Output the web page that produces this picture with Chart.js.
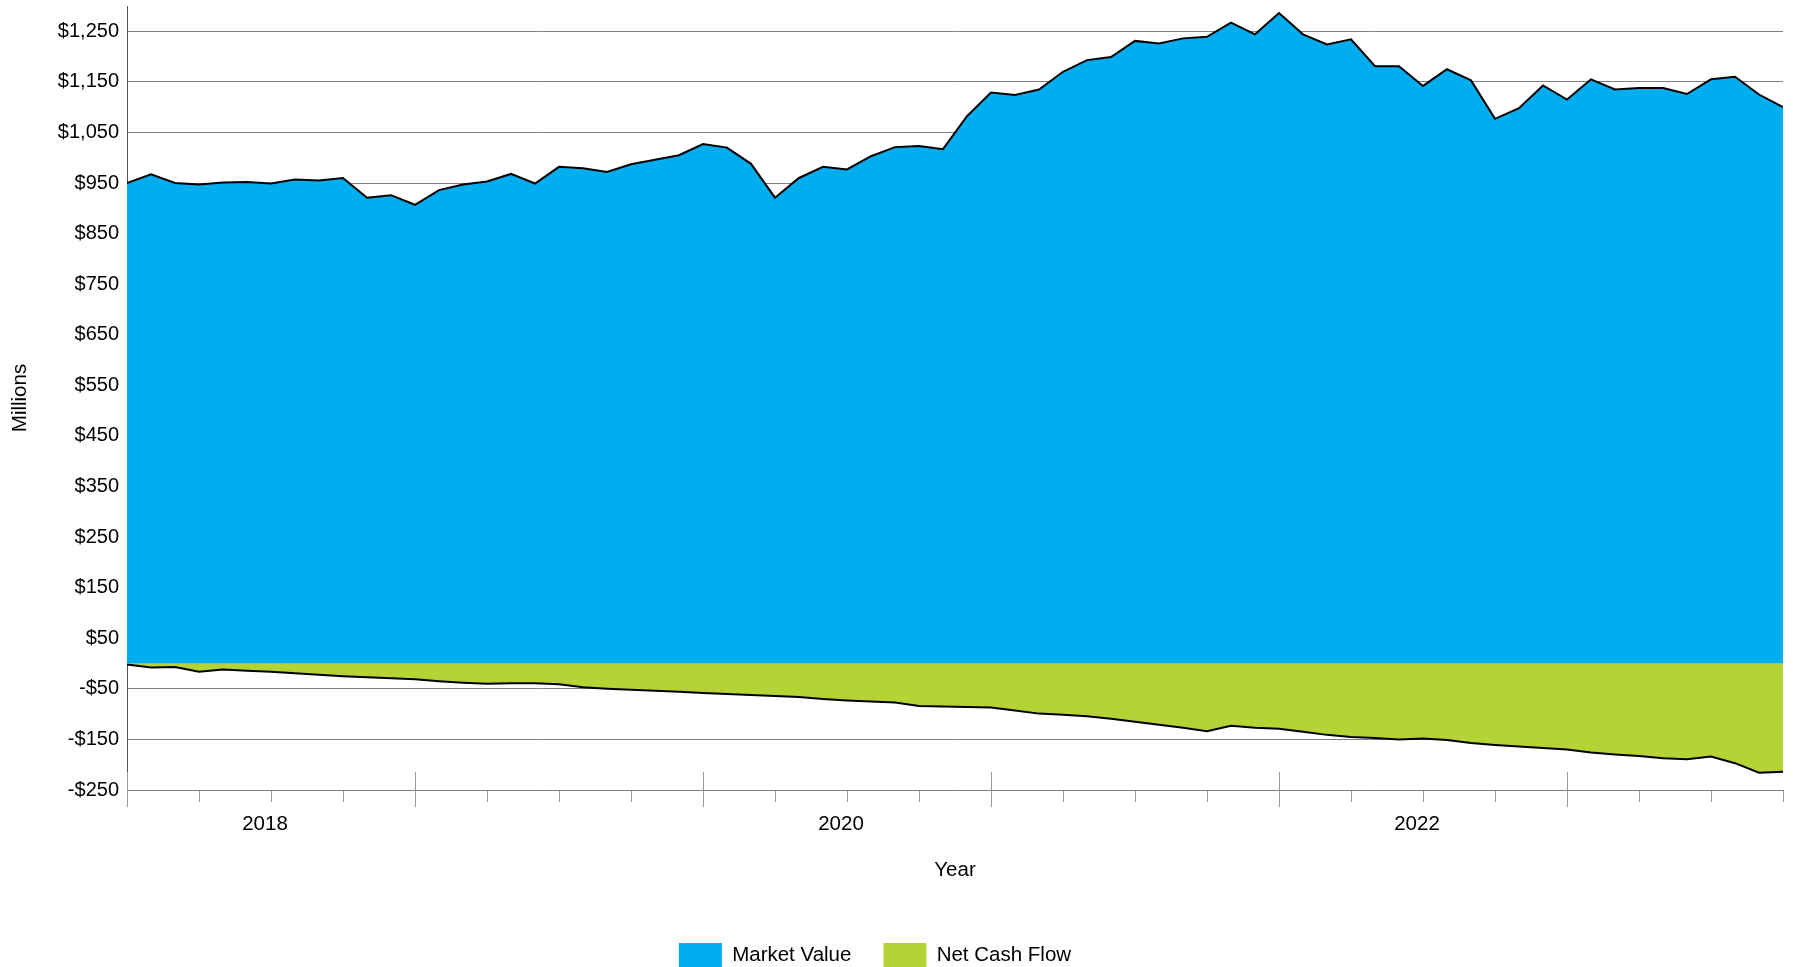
<!DOCTYPE html>
<html>
<head>
<meta charset="utf-8">
<title>Market Value and Net Cash Flow</title>
<script src="https://cdn.jsdelivr.net/npm/chart.js@4.4.1/dist/chart.umd.min.js"></script>
<style>
  html, body { margin: 0; padding: 0; background: #fff; }
  #wrap { width: 1793px; height: 967px; position: relative; }
</style>
</head>
<body>
<div id="wrap"><canvas id="chart"></canvas></div>
<script>
/* Month-end values in $ millions, Dec 2017 to Sep 2023 */
const months = [
  'Dec 2017',
  'Jan 2018', 'Feb 2018', 'Mar 2018', 'Apr 2018', 'May 2018', 'Jun 2018',
  'Jul 2018', 'Aug 2018', 'Sep 2018', 'Oct 2018', 'Nov 2018', 'Dec 2018',
  'Jan 2019', 'Feb 2019', 'Mar 2019', 'Apr 2019', 'May 2019', 'Jun 2019',
  'Jul 2019', 'Aug 2019', 'Sep 2019', 'Oct 2019', 'Nov 2019', 'Dec 2019',
  'Jan 2020', 'Feb 2020', 'Mar 2020', 'Apr 2020', 'May 2020', 'Jun 2020',
  'Jul 2020', 'Aug 2020', 'Sep 2020', 'Oct 2020', 'Nov 2020', 'Dec 2020',
  'Jan 2021', 'Feb 2021', 'Mar 2021', 'Apr 2021', 'May 2021', 'Jun 2021',
  'Jul 2021', 'Aug 2021', 'Sep 2021', 'Oct 2021', 'Nov 2021', 'Dec 2021',
  'Jan 2022', 'Feb 2022', 'Mar 2022', 'Apr 2022', 'May 2022', 'Jun 2022',
  'Jul 2022', 'Aug 2022', 'Sep 2022', 'Oct 2022', 'Nov 2022', 'Dec 2022',
  'Jan 2023', 'Feb 2023', 'Mar 2023', 'Apr 2023', 'May 2023', 'Jun 2023',
  'Jul 2023', 'Aug 2023', 'Sep 2023'
];

const marketValue = [
  950, 967, 950, 947, 951, 952, 949, 957, 955, 960,
  921, 926, 907, 936, 947, 953, 968, 949, 982, 979,
  972, 987, 996, 1005, 1027, 1020, 988, 921, 960, 982,
  977, 1003, 1021, 1023, 1017, 1082, 1129, 1124, 1135, 1170,
  1193, 1199, 1231, 1226, 1236, 1239, 1267, 1244, 1286, 1244,
  1224, 1234, 1181, 1181, 1142, 1175, 1153, 1077, 1098, 1143,
  1115, 1155, 1135, 1138, 1138, 1126, 1155, 1160, 1125, 1100
];

const netCashFlow = [
  -2, -8, -7, -16, -12, -14, -16, -19, -22, -25,
  -27, -29, -31, -35, -38, -40, -39, -39, -41, -47,
  -50, -52, -54, -56, -58, -60, -62, -64, -66, -70,
  -73, -75, -77, -84, -85, -86, -87, -93, -99, -101,
  -104, -109, -115, -121, -127, -134, -123, -127, -129, -135,
  -141, -145, -147, -150, -148, -151, -157, -161, -164, -167,
  -170, -176, -180, -183, -187, -189, -184, -197, -216, -214
];

const yTicks = [-250, -150, -50, 50, 150, 250, 350, 450, 550, 650, 750, 850, 950, 1050, 1150, 1250];
const yearLabels = ['2018', '2020', '2022'];

const colors = {
  market: '#00AEEF',
  cash: '#B5D334',
  outline: '#000000',
  grid: '#808080',
  axis: '#555555',
  tick: '#999999',
  text: '#000000',
};

Chart.defaults.font.family = '"Liberation Sans", Arial, sans-serif';
Chart.defaults.color = colors.text;

// Year boundaries get a long tick that pokes up into the plot
const yearTicks = {
  id: 'yearTicks',
  afterDraw(chart) {
    const { ctx, chartArea, scales } = chart;
    ctx.save();
    ctx.strokeStyle = colors.tick;
    ctx.lineWidth = 1;
    months.forEach((m, i) => {
      if (!m.startsWith('Dec')) return;
      const px = Math.round(scales.x.getPixelForValue(i) - 0.5) + 0.5;
      ctx.beginPath();
      ctx.moveTo(px, chartArea.bottom - 18);
      ctx.lineTo(px, chartArea.bottom + 17);
      ctx.stroke();
    });
    ctx.restore();
  }
};

// the original legend sits a little left of centre and close to the bottom edge
const legendNudge = {
  id: 'legendNudge',
  afterLayout(chart) {
    const lg = chart.legend;
    lg.left -= 18;
    lg.right -= 18;
    lg.top += 10;
    lg.bottom += 10;
  }
};

function money(v) {
  const s = '$' + Math.abs(v).toLocaleString('en-US');
  return v < 0 ? '-' + s : s;
}

new Chart(document.getElementById('chart'), {
  type: 'line',
  data: {
    datasets: [
      {
        label: 'Market Value',
        data: marketValue.map((v, i) => ({ x: i, y: v })),
        backgroundColor: colors.market,
        borderColor: colors.outline,
        borderWidth: 2,
        fill: 'origin',
        pointRadius: 0,
        tension: 0,
      },
      {
        label: 'Net Cash Flow',
        data: netCashFlow.map((v, i) => ({ x: i, y: v })),
        backgroundColor: colors.cash,
        borderColor: colors.outline,
        borderWidth: 2,
        fill: 'origin',
        pointRadius: 0,
        tension: 0,
      },
    ],
  },
  options: {
    responsive: true,
    maintainAspectRatio: false,
    animation: false,
    layout: { padding: { top: 6, right: 7, bottom: 0, left: 0 } },
    plugins: {
      legend: {
        position: 'bottom',
        labels: {
          boxWidth: 43,
          boxHeight: 24,
          padding: 32,
          color: colors.text,
          font: { size: 20.5 },
          generateLabels(chart) {
            return Chart.defaults.plugins.legend.labels.generateLabels(chart).map((item) => {
              item.lineWidth = 0;
              item.strokeStyle = item.fillStyle;
              return item;
            });
          },
        },
      },
      tooltip: {
        callbacks: {
          title: (items) => months[items[0].parsed.x],
          label: (item) => item.dataset.label + ': ' + money(item.parsed.y),
        },
      },
    },
    scales: {
      x: {
        type: 'linear',
        min: 0,
        max: months.length - 1,
        afterFit(scale) { scale.height = 111; },
        border: { color: colors.grid },
        grid: {
          drawOnChartArea: false,
          tickLength: 12,
          tickColor: colors.tick,
        },
        ticks: {
          stepSize: 3,
          autoSkip: false,
          maxRotation: 0,
          padding: 10,
          labelOffset: -6,
          font: { size: 20.5 },
          callback(value) {
            const m = months[value];
            if (!m || !m.startsWith('Jun')) return '';
            const year = m.slice(4);
            return yearLabels.includes(year) ? year : '';
          },
        },
        title: {
          display: true,
          text: 'Year',
          font: { size: 20.5 },
          padding: { top: 0, bottom: 18 },
        },
      },
      y: {
        min: -250,
        max: 1300,
        afterBuildTicks(scale) {
          scale.ticks = yTicks.map((v) => ({ value: v }));
        },
        afterFit(scale) {
          scale.width = 127;
          scale.paddingTop = 0;
          scale.paddingBottom = 0;
        },
        border: { color: colors.axis },
        grid: {
          color: colors.grid,
          drawTicks: false,
        },
        ticks: {
          padding: 8,
          font: { size: 20 },
          callback: (v) => money(v),
        },
        title: {
          display: true,
          text: 'Millions',
          font: { size: 20.5 },
          padding: { top: 8, bottom: 0 },
        },
      },
    },
  },
  plugins: [yearTicks, legendNudge],
});
</script>
</body>
</html>
